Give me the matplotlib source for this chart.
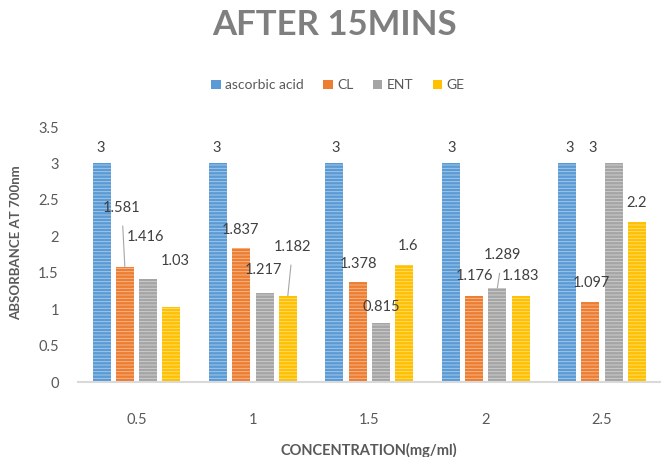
import matplotlib
matplotlib.use('Agg')
import matplotlib.pyplot as plt
from matplotlib.patches import Patch
import numpy as np

plt.rcParams['font.family'] = ['Lato', 'DejaVu Sans']
plt.rcParams['hatch.linewidth'] = 0.6

# --- data ---
concentrations = ['0.5', '1', '1.5', '2', '2.5']
series_names = ['ascorbic acid', 'CL', 'ENT', 'GE']
ascorbic = [3, 3, 3, 3, 3]
cl = [1.581, 1.837, 1.378, 1.176, 1.097]
ent = [1.416, 1.217, 0.815, 1.289, 3]
ge = [1.03, 1.182, 1.6, 1.183, 2.2]
labels_txt = [
    ['3', '3', '3', '3', '3'],
    ['1.581', '1.837', '1.378', '1.176', '1.097'],
    ['1.416', '1.217', '0.815', '1.289', '3'],
    ['1.03', '1.182', '1.6', '1.183', '2.2'],
]
colors = ['#5B9BD5', '#ED7D31', '#A5A5A5', '#FFC000']

# label offsets in pixels from bar top centre (series x group)
label_offsets = [
    [(-1, 15), (-1, 15), (1, 15), (1, 15), (2, 15)],
    [(-3, 59), (-1, 18), (1, 18), (0, 20), (1, 19)],
    [(-3, 42), (-1, 23), (0, 16), (5, 33), (-21, 15)],
    [(4, 46), (5, 49), (4, 19), (0, 20), (0, 19)],
]
leaders = {(1, 0), (3, 1), (2, 3)}

values = [ascorbic, cl, ent, ge]

fig = plt.figure(figsize=(6.69, 4.57), dpi=100)
ax = fig.add_axes([0.117, 0.164, 0.87, 0.558])

x = np.arange(len(concentrations))
slot = 0.2
width = 0.155
for i, (vals, col) in enumerate(zip(values, colors)):
    pos = x + (i - 1.5) * slot
    ax.bar(pos, vals, width, color=col, edgecolor=(1, 1, 1, 0.5),
           linewidth=0, hatch='-----', zorder=2)
    for g, (px, v) in enumerate(zip(pos, vals)):
        dx, dy = label_offsets[i][g]
        arrow = None
        if (i, g) in leaders:
            arrow = dict(arrowstyle='-', color='#a6a6a6', lw=0.8,
                         shrinkA=6, shrinkB=0)
        ax.annotate(labels_txt[i][g], xy=(px, v), xytext=(dx, dy),
                    textcoords='offset pixels', ha='center', va='center',
                    fontsize=10.5, color='#404040', arrowprops=arrow)

ax.set_xlim(-0.5, len(concentrations) - 0.5)
ax.set_ylim(0, 3.5)
ax.set_yticks(np.arange(0, 3.51, 0.5))
ax.set_yticklabels(['0', '0.5', '1', '1.5', '2', '2.5', '3', '3.5'])
ax.set_xticks(x)
ax.set_xticklabels(concentrations)
ax.tick_params(axis='both', length=0, labelsize=10.5, labelcolor='#595959')
ax.tick_params(axis='x', pad=22)
ax.tick_params(axis='y', pad=14)
for s in ['top', 'right', 'left']:
    ax.spines[s].set_visible(False)
ax.spines['bottom'].set_color('#d9d9d9')
ax.spines['bottom'].set_linewidth(1.5)

ax.set_xlabel('CONCENTRATION(mg/ml)', fontsize=10.5, fontweight='bold',
              color='#595959')
ax.xaxis.set_label_coords(0.5, -0.24)
ax.set_ylabel('ABSORBANCE AT 700nm', fontsize=9.5, fontweight='bold',
              color='#595959')
ax.yaxis.set_label_coords(-0.096, 0.545)

fig.text(0.5, 0.945, 'AFTER 15MINS', ha='center', va='center', fontsize=25,
         fontweight='bold', color='#7f7f7f')

handles = [Patch(facecolor=c, edgecolor='none') for c in colors]
fig.legend(handles, series_names, loc='center', bbox_to_anchor=(0.505, 0.813),
           ncol=4, frameon=False, fontsize=10, handlelength=0.7, handleheight=0.7,
           handletextpad=0.3, columnspacing=1.4, labelcolor='#595959')

fig.savefig('out.png', dpi=100, facecolor='white')
